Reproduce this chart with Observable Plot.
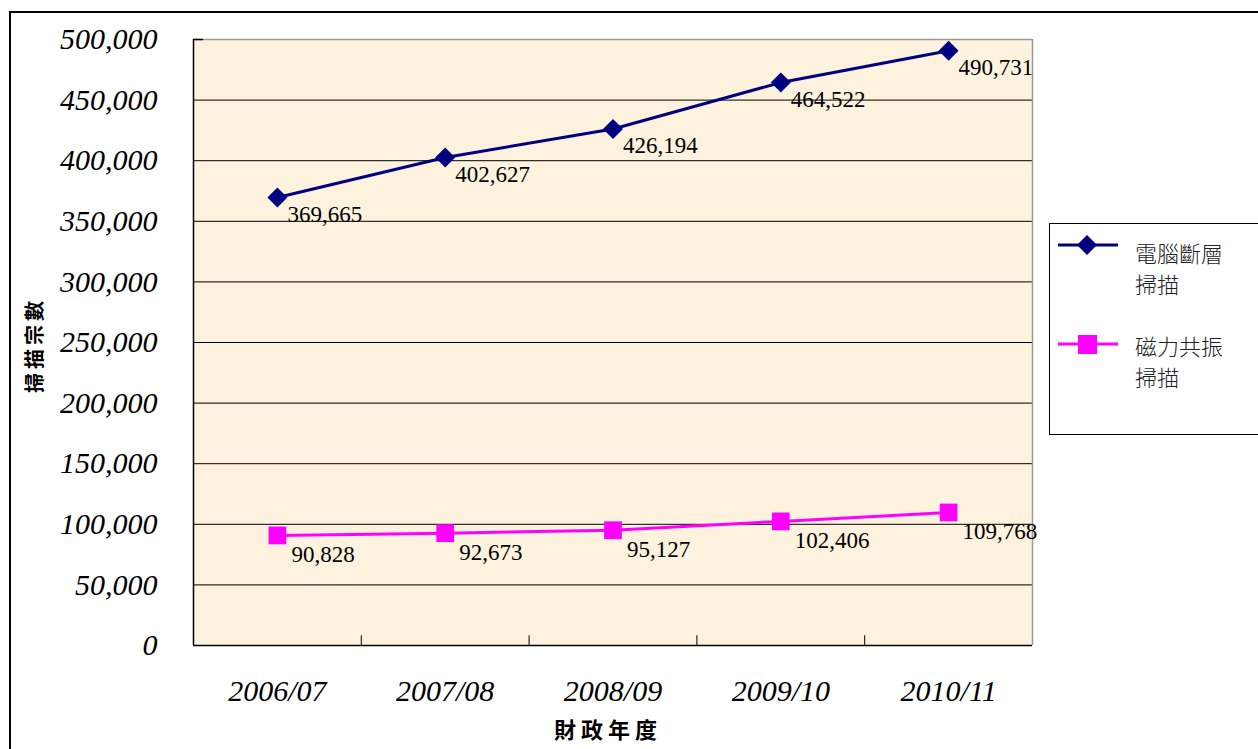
<!DOCTYPE html>
<html>
<head>
<meta charset="utf-8">
<script src="https://cdn.jsdelivr.net/npm/d3@7"></script>
<script src="https://cdn.jsdelivr.net/npm/@observablehq/plot@0.6"></script>
<style>
  html, body { margin:0; padding:0; background:#fff; overflow:hidden; }
  #wrap { position:relative; width:1258px; height:749px; overflow:hidden; }
  #frame { position:absolute; left:9px; top:11px; width:1300px; height:800px; border:2px solid #000; box-sizing:border-box; }
  #chart { position:absolute; left:0; top:0; }
  .cjk { font-family:"Noto Sans CJK TC","Noto Sans CJK SC",sans-serif; }
  #ytitle { position:absolute; left:33px; top:345px; transform:translate(-50%,-50%) rotate(-90deg); font-weight:bold; font-size:20px; letter-spacing:4px; white-space:nowrap; }
  #xtitle { position:absolute; left:608px; top:728px; transform:translate(-50%,-50%); font-weight:bold; font-size:22px; letter-spacing:5px; white-space:nowrap; }
  #legend { position:absolute; left:1049px; top:223px; width:230px; height:212px; border:1px solid #000; box-sizing:border-box; background:#fff; }
  .lgtext { position:absolute; left:85px; font-size:22px; line-height:31px; color:#222; font-weight:300; }
</style>
</head>
<body>
<div id="wrap">
  <div id="frame"></div>
  <div id="chart"></div>
  <div id="ytitle" class="cjk">掃描宗數</div>
  <div id="xtitle" class="cjk">財政年度</div>
  <div id="legend">
    <svg id="lgsvg" width="80" height="212" style="position:absolute;left:0;top:0"></svg>
    <div class="lgtext cjk" style="top:13px">電腦斷層<br>掃描</div>
    <div class="lgtext cjk" style="top:106px">磁力共振<br>掃描</div>
  </div>
</div>
<script>
const years = ["2006/07", "2007/08", "2008/09", "2009/10", "2010/11"];
const ctScans = [369665, 402627, 426194, 464522, 490731];
const mriScans = [90828, 92673, 95127, 102406, 109768];
const yTicks = [0, 50000, 100000, 150000, 200000, 250000, 300000, 350000, 400000, 450000, 500000];
const seriesNames = ["電腦斷層掃描", "磁力共振掃描"];
const seriesColors = ["#000080", "#FF00FF"];

const ctData = years.map((y, i) => ({pos: i + 0.5, year: y, value: ctScans[i], series: seriesNames[0]}));
const mriData = years.map((y, i) => ({pos: i + 0.5, year: y, value: mriScans[i], series: seriesNames[1]}));
const fmt = d3.format(",");
const serif = "'Liberation Serif','Times New Roman',serif";

const chart = Plot.plot({
  width: 1258,
  height: 749,
  marginLeft: 193,
  marginRight: 226,
  marginTop: 39,
  marginBottom: 104,
  style: {background: "transparent", overflow: "visible"},
  x: {domain: [0, years.length], axis: null},
  y: {domain: [0, 500000], axis: null},
  marks: [
    Plot.frame({fill: "#FCF2DE", stroke: "none"}),
    Plot.ruleY(yTicks.slice(1, -1), {stroke: "#000", strokeWidth: 1}),
    Plot.ruleY([500000], {stroke: "#999", strokeWidth: 1.5}),
    Plot.ruleX([years.length], {stroke: "#999", strokeWidth: 1.5}),
    Plot.ruleY([0], {stroke: "#000", strokeWidth: 1.5}),
    Plot.ruleX([0], {stroke: "#000", strokeWidth: 1.5}),
    Plot.ruleX(d3.range(1, years.length), {y1: 0, y2: 8000, stroke: "#000", strokeWidth: 1}),
    Plot.ruleY([500000], {x1: 0, x2: 0.06, stroke: "#000", strokeWidth: 1.5}),
    Plot.axisY(yTicks, {
      tickSize: 0, tickPadding: 36, tickFormat: fmt, label: null,
      fontSize: 30, fontStyle: "italic", fontFamily: serif, fill: "#000"
    }),
    Plot.axisX(years.map((d, i) => i + 0.5), {
      tickSize: 0, tickPadding: 34, tickFormat: v => years[Math.round(v - 0.5)], label: null,
      fontSize: 30, fontStyle: "italic", fontFamily: serif, fill: "#000"
    }),
    Plot.line(ctData, {x: "pos", y: "value", stroke: seriesColors[0], strokeWidth: 3}),
    Plot.line(mriData, {x: "pos", y: "value", stroke: seriesColors[1], strokeWidth: 3}),
    Plot.dot(ctData, {x: "pos", y: "value", symbol: "diamond2", r: 9, fill: seriesColors[0], stroke: "none"}),
    Plot.dot(mriData, {x: "pos", y: "value", symbol: "square", r: 10, fill: seriesColors[1], stroke: "none"}),
    Plot.text(ctData, {x: "pos", y: "value", text: d => fmt(d.value), textAnchor: "start", dx: 10, dy: 17, fontSize: 23, fontFamily: serif, fill: "#000"}),
    Plot.text(mriData, {x: "pos", y: "value", text: d => fmt(d.value), textAnchor: "start", dx: 14, dy: 19, fontSize: 23, fontFamily: serif, fill: "#000"})
  ]
});
document.getElementById("chart").appendChild(chart);

// legend symbols
const lg = d3.select("#lgsvg");
lg.append("line").attr("x1", 8).attr("x2", 68).attr("y1", 21).attr("y2", 21).attr("stroke", seriesColors[0]).attr("stroke-width", 3);
lg.append("path").attr("d", d3.symbol(d3.symbolDiamond2, Math.PI * 81)()).attr("transform", "translate(37,21)").attr("fill", seriesColors[0]);
lg.append("line").attr("x1", 8).attr("x2", 68).attr("y1", 120).attr("y2", 120).attr("stroke", seriesColors[1]).attr("stroke-width", 3);
lg.append("rect").attr("x", 28).attr("y", 111).attr("width", 19).attr("height", 19).attr("fill", seriesColors[1]);
</script>
</body>
</html>
